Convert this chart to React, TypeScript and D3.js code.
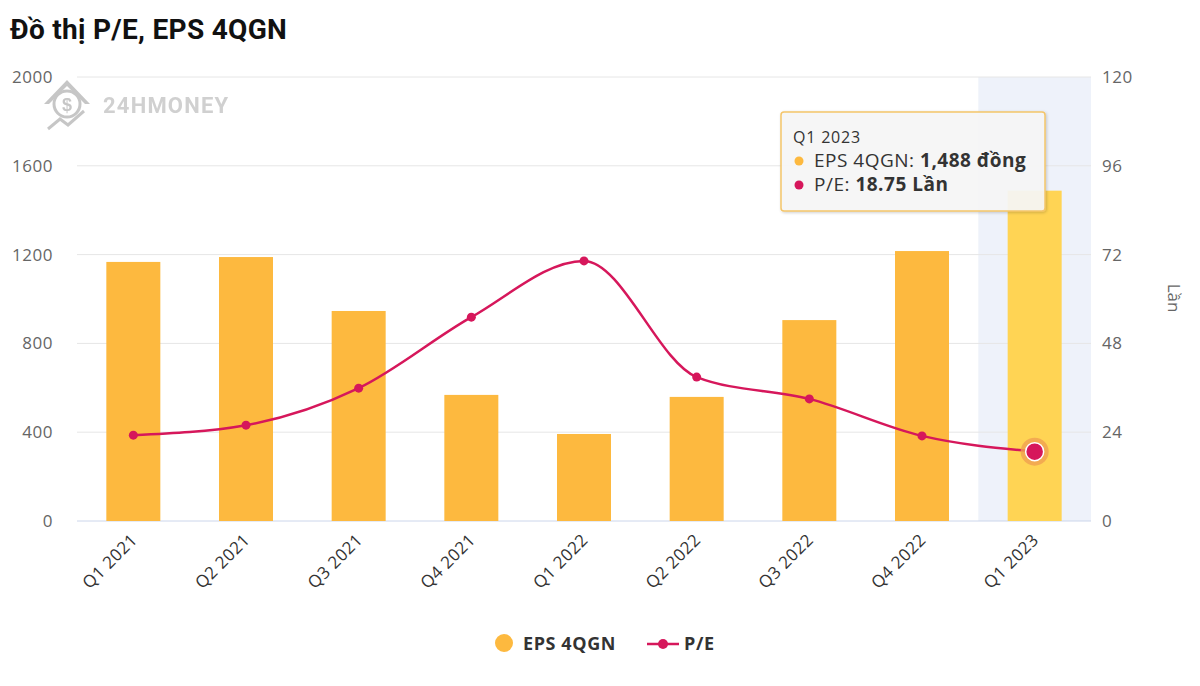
import React from "react";
import * as d3 from "d3";

const categories = ["Q1 2021", "Q2 2021", "Q3 2021", "Q4 2021", "Q1 2022", "Q2 2022", "Q3 2022", "Q4 2022", "Q1 2023"];
const epsValues = [1167, 1189, 946, 568, 392, 559, 905, 1216, 1488];
const peValues = [23.2, 25.9, 35.9, 55.1, 70.3, 38.9, 33.0, 23.0, 18.75];
const leftTicks = [0, 400, 800, 1200, 1600, 2000];
const rightTicks = [0, 24, 48, 72, 96, 120];
const hoverIndex = 8;

const W = 1200, H = 686;
const plot = { left: 77, right: 1091, top: 77, bottom: 521 };
const FONT = "'Open Sans', 'Noto Sans', sans-serif";
const BAR = "#FDB93F";
const BAR_HOVER = "#FFD454";
const LINE = "#D6175B";

export default function App() {
  const x = d3.scaleBand<string>().domain(categories).range([plot.left, plot.right]).paddingInner(0).paddingOuter(0);
  const yL = d3.scaleLinear().domain([0, 2000]).range([plot.bottom, plot.top]);
  const yR = d3.scaleLinear().domain([0, 120]).range([plot.bottom, plot.top]);
  const bw = 54;
  const cx = (c: string) => (x(c) as number) + x.bandwidth() / 2;
  const line = d3.line<number>().x((_, i) => cx(categories[i])).y((d) => yR(d)).curve(d3.curveMonotoneX);
  const hc = categories[hoverIndex];

  return (
    <svg width={W} height={H} style={{ position: "absolute", left: 0, top: 0, background: "#fff" }} fontFamily={FONT}>
      <rect x={0} y={0} width={W} height={H} fill="#fff" />
      <text x={10} y={39} fontSize={28} fontWeight="bold" fill="#111" fontFamily="Roboto, Arial, sans-serif" letterSpacing={0.3}>Đồ thị P/E, EPS 4QGN</text>

      {/* hover band */}
      <rect x={x(hc)} y={plot.top} width={x.bandwidth()} height={plot.bottom - plot.top} fill="#EEF2FA" />

      {/* gridlines */}
      {leftTicks.map((t) => (
        <line key={t} x1={plot.left} x2={plot.right} y1={yL(t)} y2={yL(t)} stroke={t === 0 ? "#CCD6EB" : "#E6E6E6"} strokeWidth={1} />
      ))}

      {/* watermark */}
      <g opacity={0.55}>
        <path d="M44,104 L67,80 L90,104 L85,104 L67,86 L49,104 Z" fill="#999" />
        <circle cx={67} cy={104} r={13} fill="none" stroke="#999" strokeWidth={3} />
        <text x={67} y={111} fontSize={18} fontWeight="bold" textAnchor="middle" fill="#999" fontFamily="Arial, sans-serif">$</text>
        <path d="M48,129 L60,119 L68,125 L84,111" fill="none" stroke="#999" strokeWidth={3} />
        <text x={103} y={113} fontSize={22} fontWeight="bold" fill="#aaa" fontFamily="Roboto, Arial, sans-serif" letterSpacing={1.2}>24HMONEY</text>
      </g>

      {/* left ticks */}
      {leftTicks.map((t) => (
        <text key={t} x={53} y={yL(t) + 6} fontSize={17} fill="#666" textAnchor="end" letterSpacing={0.5}>{t}</text>
      ))}
      {/* right ticks */}
      {rightTicks.map((t) => (
        <text key={t} x={1102} y={yR(t) + 6} fontSize={17} fill="#666" textAnchor="start" letterSpacing={0.5}>{t}</text>
      ))}
      <text transform={`translate(1168,298) rotate(90)`} fontSize={17} fill="#666" textAnchor="middle">Lần</text>

      {/* bars */}
      {epsValues.map((v, i) => (
        <rect key={i} x={cx(categories[i]) - bw / 2} y={yL(v)} width={bw} height={yL(0) - yL(v)} fill={i === hoverIndex ? BAR_HOVER : BAR} />
      ))}

      {/* x labels */}
      {categories.map((c) => (
        <text key={c} transform={`translate(${cx(c) + 5},${plot.bottom + 20}) rotate(-45)`} fontSize={17} fill="#333" textAnchor="end" letterSpacing={0.4}>{c}</text>
      ))}

      {/* line */}
      <path d={line(peValues) || ""} fill="none" stroke={LINE} strokeWidth={2.5} />
      {peValues.map((v, i) => i === hoverIndex ? null : (
        <circle key={i} cx={cx(categories[i])} cy={yR(v)} r={4.5} fill={LINE} />
      ))}
      <circle cx={cx(hc)} cy={yR(peValues[hoverIndex])} r={14} fill="#F0A050" opacity={0.8} />
      <circle cx={cx(hc)} cy={yR(peValues[hoverIndex])} r={9} fill={LINE} stroke="#fff" strokeWidth={1.5} />

      {/* tooltip */}
      <defs>
        <filter id="sh" x="-10%" y="-10%" width="130%" height="140%">
          <feDropShadow dx={1} dy={1} stdDeviation={1.5} floodColor="#000" floodOpacity={0.2} />
        </filter>
      </defs>
      <rect x={781} y={112} width={264} height={99} rx={3} fill="#F7F7F7" fillOpacity={0.92} stroke="#F4C56A" strokeWidth={1.5} filter="url(#sh)" />
      <text x={793} y={143} fontSize={16} fill="#333" letterSpacing={0.8}>{hc}</text>
      <circle cx={799} cy={161} r={4.5} fill={BAR} />
      <text x={814} y={167} fontSize={19} fill="#333" letterSpacing={0.5}>EPS 4QGN: <tspan fontWeight="bold">{d3.format(",")(epsValues[hoverIndex])} đồng</tspan></text>
      <circle cx={799} cy={185} r={4.5} fill={LINE} />
      <text x={814} y={191} fontSize={19} fill="#333" letterSpacing={0.5}>P/E: <tspan fontWeight="bold">{peValues[hoverIndex]} Lần</tspan></text>

      {/* legend */}
      <circle cx={504} cy={643} r={9} fill={BAR} />
      <text x={523} y={650} fontSize={18} fontWeight="bold" fill="#333" letterSpacing={0.6}>EPS 4QGN</text>
      <line x1={647} x2={679} y1={644} y2={644} stroke={LINE} strokeWidth={2.5} />
      <circle cx={663} cy={644} r={5} fill={LINE} />
      <text x={684} y={650} fontSize={18} fontWeight="bold" fill="#333" letterSpacing={0.6}>P/E</text>
    </svg>
  );
}
